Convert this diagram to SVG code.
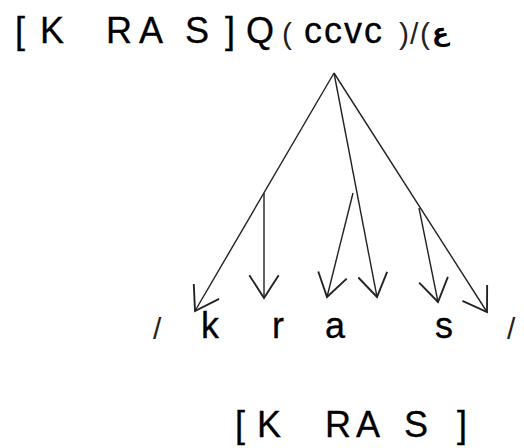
<svg xmlns="http://www.w3.org/2000/svg" width="524" height="448" viewBox="0 0 524 448">
<defs>
<style>
.t{font-family:"Liberation Sans",Arial,sans-serif;fill:#000;stroke:#000;stroke-width:0.3}
.big{font-size:36px}
.par{font-size:30px;fill:#222;stroke:none}
.ln{stroke:#222;stroke-width:1.4;fill:none;marker-end:url(#ah)}
</style>
<marker id="ah" markerUnits="userSpaceOnUse" markerWidth="40" markerHeight="40" viewBox="-20 -15 24 30" refX="0" refY="0" orient="auto">
<path d="M-17,-11 L0,0 L-17,11" fill="none" stroke="#222" stroke-width="1.4"/>
</marker>
</defs>
<g id="top-label">
<text class="t big" y="43"><tspan x="15">[</tspan><tspan x="40">K</tspan><tspan x="106">R</tspan><tspan x="139">A</tspan><tspan x="185">S</tspan><tspan x="225">]</tspan><tspan x="246">Q</tspan></text>
<text class="t par" x="282" y="44">(</text>
<text class="t big" y="43"><tspan x="304">c</tspan><tspan x="324">c</tspan><tspan x="344">v</tspan><tspan x="364">c</tspan></text>
<text class="t par" y="44"><tspan x="399">)</tspan><tspan x="410">/</tspan><tspan x="420">(</tspan></text>
<text x="432" y="41" style="font-family:'DejaVu Sans',sans-serif;font-size:25px;font-weight:bold">ع</text>
</g>
<g id="connectors">
<line class="ln" x1="334" y1="73" x2="195" y2="311"/>
<line class="ln" x1="334" y1="73" x2="377" y2="297"/>
<line class="ln" x1="334" y1="73" x2="487" y2="312"/>
<line class="ln" x1="264" y1="193" x2="264" y2="298"/>
<line class="ln" x1="353" y1="193" x2="327" y2="297"/>
<line class="ln" x1="419" y1="208" x2="438" y2="302"/>
</g>
<g id="segments">
<text class="t par" x="153" y="339">/</text>
<text class="t big" y="338"><tspan x="201">k</tspan><tspan x="272">r</tspan><tspan x="325">a</tspan><tspan x="435">s</tspan></text>
<text class="t par" x="507" y="339">/</text>
</g>
<g id="bottom-label">
<text class="t big" y="437"><tspan x="235">[</tspan><tspan x="257">K</tspan><tspan x="325">R</tspan><tspan x="356">A</tspan><tspan x="404">S</tspan><tspan x="457">]</tspan></text>
</g>
</svg>
